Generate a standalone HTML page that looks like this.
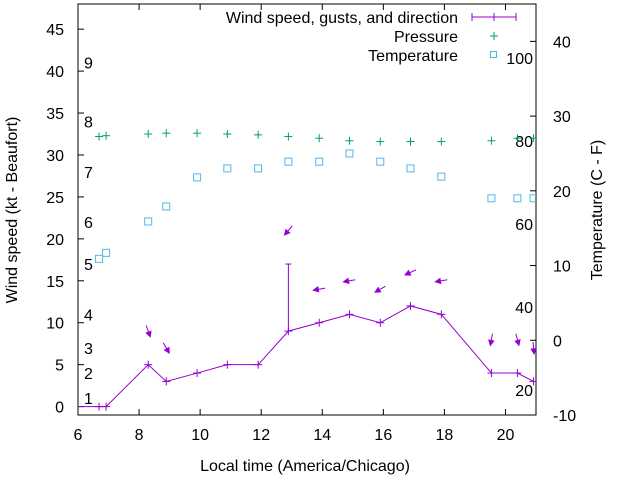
<!DOCTYPE html>
<html><head><meta charset="utf-8"><style>
body{margin:0;background:#fff}
svg{display:block;font-family:"Liberation Sans",sans-serif}
</style></head><body>
<svg id="chart" width="640" height="480" viewBox="0 0 640 480">
<defs><clipPath id="plotclip"><rect x="78" y="4" width="458" height="411"/></clipPath></defs>
<g id="axes"></g>
<g id="series" clip-path="url(#plotclip)"></g>
<g id="legend">
  <text x="458" y="23" text-anchor="end" font-size="16">Wind speed, gusts, and direction</text>
  <g stroke="#9400d3" stroke-width="1">
    <line x1="472" y1="17" x2="516" y2="17"/><line x1="472" y1="13" x2="472" y2="21"/><line x1="516" y1="13" x2="516" y2="21"/><line x1="494" y1="13" x2="494" y2="21"/>
  </g>
  <text x="458" y="42" text-anchor="end" font-size="16">Pressure</text>
  <g stroke="#009e73"><line x1="490" y1="36" x2="498" y2="36"/><line x1="494" y1="32" x2="494" y2="40"/></g>
  <text x="458" y="61" text-anchor="end" font-size="16">Temperature</text>
  <rect x="490.5" y="51.5" width="6" height="6" fill="none" stroke="#56b4e9"/>
</g>
<text x="305" y="471" text-anchor="middle" font-size="16">Local time (America/Chicago)</text>
<text transform="translate(17,210) rotate(-90)" text-anchor="middle" font-size="16">Wind speed (kt - Beaufort)</text>
<text transform="translate(602,210) rotate(-90)" text-anchor="middle" font-size="16">Temperature (C - F)</text>
</svg>
<script>
const times=[6.69,6.92,8.30,8.89,9.90,10.89,11.90,12.89,13.90,14.89,15.90,16.89,17.90,19.54,20.39,20.92];
const windSpeed=[0,0,5,3,4,5,5,9,10,11,10,12,11,4,4,3];
const windGust=[null,null,null,null,null,null,null,17,null,null,null,null,null,null,null,null];
const windDir=[null,null,340,330,null,null,null,40,80,80,60,65,80,10,345,355];
const pressure=[32.2,32.3,32.5,32.6,32.6,32.5,32.4,32.2,32.0,31.7,31.6,31.6,31.6,31.7,32.0,32.0];
const tempC=[10.9,11.7,15.9,17.9,21.8,23.0,23.0,23.9,23.9,25.0,23.9,23.0,21.9,19.0,19.0,19.0];
const xTicks=[6,8,10,12,14,16,18,20];
const yTicks=[0,5,10,15,20,25,30,35,40,45];
const y2Ticks=[-10,0,10,20,30,40];
const beaufortKt=[1,4,7,11,17,22,28,34,41];
const beaufortLabels=["1","2","3","4","5","6","7","8","9"];
const fTicks=[20,40,60,80,100];

const L=78,R=536,T=4,B=415;
const X=t=>L+(t-6)*(R-L)/15;
const Y=v=>B-(v+1)*(B-T)/49;
const Y2=c=>B-(c+10)*(B-T)/55;
const NS="http://www.w3.org/2000/svg";
function mk(tag,attrs,parent,txt){const e=document.createElementNS(NS,tag);for(const k in attrs)e.setAttribute(k,attrs[k]);if(txt!==undefined)e.textContent=txt;parent.appendChild(e);return e;}
const ax=document.getElementById('axes'),se=document.getElementById('series');

let b=mk('rect',{x:L,y:T,width:R-L,height:B-T,fill:'none',stroke:'#000','stroke-width':1},ax);


xTicks.forEach(t=>{
  let g=mk('g',{},ax);
  
  
  mk('line',{x1:X(t),y1:B,x2:X(t),y2:B-6,stroke:'#000'},g);
  mk('line',{x1:X(t),y1:T,x2:X(t),y2:T+6,stroke:'#000'},g);
  mk('text',{x:X(t),y:B+25,'text-anchor':'middle','font-size':16},g,String(t));
});
yTicks.forEach(v=>{
  let g=mk('g',{},ax);
  
  
  mk('line',{x1:L,y1:Y(v),x2:L+6,y2:Y(v),stroke:'#000'},g);
  mk('text',{x:L-14,y:Y(v)+6,'text-anchor':'end','font-size':16},g,String(v));
});
y2Ticks.forEach(c=>{
  let g=mk('g',{},ax);
  
  
  mk('line',{x1:R,y1:Y2(c),x2:R-6,y2:Y2(c),stroke:'#000'},g);
  mk('text',{x:R+17,y:Y2(c)+6,'text-anchor':'start','font-size':16},g,String(c));
});
beaufortKt.forEach((k,i)=>{
  let e=mk('text',{x:84,y:Y(k)+6,'font-size':16},ax,beaufortLabels[i]);
  
  
});
fTicks.forEach(f=>{
  let e=mk('text',{x:533,y:Y2((f-32)*5/9)+6,'text-anchor':'end','font-size':16},ax,String(f));
  
  
});

let pts=[[X(5.8),Y(0)]].concat(times.map((t,i)=>[X(t),Y(windSpeed[i])]));
let wl=mk('polyline',{points:pts.map(p=>p.join(',')).join(' '),fill:'none',stroke:'#9400d3','stroke-width':1},se);


times.forEach((t,i)=>{
  let g=mk('g',{stroke:'#9400d3','stroke-width':1},se);
  
  
  const x=X(t),y=Y(windSpeed[i]);
  mk('line',{x1:x-4,y1:y,x2:x+4,y2:y},g);mk('line',{x1:x,y1:y-4,x2:x,y2:y+4},g);
  if(windGust[i]!==null){
    mk('line',{x1:x,y1:y,x2:x,y2:Y(windGust[i])},g);
    mk('line',{x1:x-3,y1:Y(windGust[i]),x2:x+3,y2:Y(windGust[i])},g);
  }
  if(windDir[i]!==null){
    const top=Math.max(windSpeed[i],windGust[i]||0)+4;
    const cx=x,cy=Y(top);
    const a=(windDir[i]+180)*Math.PI/180;
    const dx=Math.sin(a),dy=-Math.cos(a);
    const hx=cx+dx*6,hy=cy+dy*6,tx=cx-dx*6,ty=cy-dy*6;
    mk('line',{x1:tx,y1:ty,x2:hx,y2:hy},g);
    const px=-dy,py=dx;
    mk('polygon',{points:`${hx},${hy} ${hx-dx*5+px*2.5},${hy-dy*5+py*2.5} ${hx-dx*5-px*2.5},${hy-dy*5-py*2.5}`,fill:'#9400d3'},g);
  }
});
times.forEach((t,i)=>{
  let g=mk('g',{stroke:'#009e73','stroke-width':1},se);
  
  
  const x=X(t),y=Y(pressure[i]);
  mk('line',{x1:x-4,y1:y,x2:x+4,y2:y},g);mk('line',{x1:x,y1:y-4,x2:x,y2:y+4},g);
});
times.forEach((t,i)=>{
  let r=mk('rect',{x:X(t)-3.5,y:Y2(tempC[i])-3.5,width:7,height:7,fill:'none',stroke:'#56b4e9','stroke-width':1},se);
  
  
});
</script>
</body></html>
